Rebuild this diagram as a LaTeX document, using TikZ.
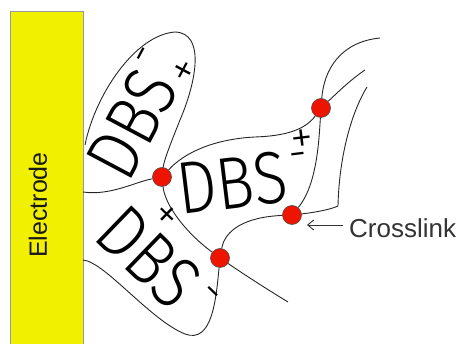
\documentclass[tikz,border=0pt]{standalone}
\usepackage{fontspec}
\usepackage{xcolor}
\setmainfont{Liberation Sans}
\IfFontExistsTF{Fira Sans Book}
  {\newfontfamily\dbsfont{Fira Sans Book}}
  {\newfontfamily\dbsfont{Fira Sans Light}}
\newcommand\dbsword{\scalebox{0.85}[1]{DBS}}
\usetikzlibrary{
    arrows.meta
}
\tikzset{
  chain/.style  = {line width=0.9pt, black!85},
  xlink/.style  = {circle, draw=black!70, fill=LinkRed, line width=0.6pt,
                   minimum size=19pt, inner sep=0pt},
  dbs/.style    = {inner sep=0pt, font=\dbsfont\fontsize{74}{74}\selectfont},
  chg/.style    = {inner sep=0pt, font=\dbsfont\fontsize{46}{46}\selectfont},
  lbl/.style    = {inner sep=0pt, text=black!80, font=\fontsize{26}{26}\selectfont},
  ptr/.style    = {-{Straight Barb[length=6pt, width=10pt]}, line width=0.9pt, black!80}
}
\definecolor{ElecYellow}{RGB}{240,240,0}
\definecolor{LinkRed}{RGB}{238,20,0}

\begin{document}
\begin{tikzpicture}[x=1pt, y=-1pt]
    \useasboundingbox (0,0) rectangle (459,344);

    % electrode plate
    \fill[ElecYellow] (10,11) rectangle (83,344);
    \draw[black!40, line width=0.6pt] (10,344) -- (10,11) -- (83,11) -- (83,344);
    \node[lbl, text=black!90, rotate=90, font=\fontsize{25}{25}\selectfont] (elec) at (38,205) {Electrode};

    % crosslink points
    \node[xlink] (x1) at (162,177) {};
    \node[xlink] (x2) at (220,258) {};
    \node[xlink] (x3) at (292,215) {};
    \node[xlink] (x4) at (321,108) {};

    % loose chain ends
    \coordinate (e1) at (85,145);
    \coordinate (e2) at (83,192);
    \coordinate (e3) at (83,260);
    \coordinate (e4) at (288,302);
    \coordinate (e5) at (367,87);
    \coordinate (e6) at (380,38);
    \coordinate (e7) at (365,70);

    % polymer chains
    \draw[chain] (e1) .. controls (95,95) and (135,35) .. (175,32)
                      .. controls (205,33) and (197,80) .. (180,120)
                      .. controls (172,140) and (164,160) .. (x1);
    \draw[chain] (e2) .. controls (110,196) and (135,182) .. (x1);
    \draw[chain] (e3) .. controls (105,262) and (150,320) .. (185,334)
                      .. controls (212,344) and (216,300) .. (x2);
    \draw[chain] (x1) .. controls (185,152) and (215,139) .. (255,137)
                      .. controls (285,136) and (305,130) .. (x4);
    \draw[chain] (x1) .. controls (165,205) and (185,232) .. (x2);
    \draw[chain] (x2) .. controls (245,275) and (265,288) .. (e4);
    \draw[chain] (x2) .. controls (225,230) and (245,217) .. (x3);
    \draw[chain] (x3) .. controls (310,213) and (330,210) .. (338,206)
                      .. controls (339,160) and (350,115) .. (e5);
    \draw[chain] (x3) .. controls (317,185) and (319,140) .. (x4);
    \draw[chain] (x4) .. controls (324,70) and (340,42) .. (e6);
    \draw[chain] (x4) .. controls (335,95) and (350,80) .. (e7);

    % dopant segments
    \node[dbs, rotate=62]  (dbsA) at (132,124) {\dbsword};
    \node[dbs, rotate=7]   (dbsB) at (232,183) {\dbsword};
    \node[dbs, rotate=-44] (dbsC) at (149,257) {\dbsword};

    \node[chg, rotate=62]  (qA1) at (147,57)  {-};
    \node[chg, rotate=62]  (qA2) at (187,72)  {+};
    \node[chg, rotate=7]   (qB1) at (302,142) {+};
    \node[chg, rotate=7]   (qB2) at (299,161) {-};
    \node[chg, rotate=-44] (qC1) at (165,217) {+};
    \node[chg, rotate=-44] (qC2) at (209,296) {-};

    % label
    \node[lbl, anchor=west] (xl) at (349,228.5) {Crosslink};
    \coordinate (tip) at (307,225);
    \draw[ptr, shorten <=6pt] (tip -| xl.west) -- (tip);
\end{tikzpicture}
\end{document}
